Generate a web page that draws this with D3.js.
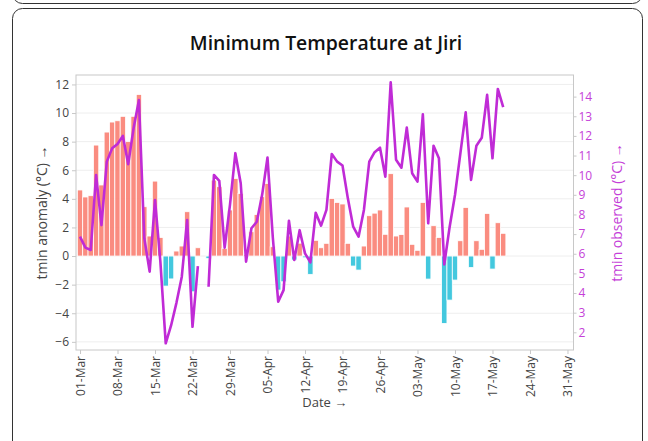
<!DOCTYPE html>
<html>
<head>
<meta charset="utf-8">
<script src="https://cdn.jsdelivr.net/npm/d3@7"></script>
<style>
  body { margin: 0; background: #fff; }
  text { font-family: "Open Sans", sans-serif; }
</style>
</head>
<body>
<div id="chart"></div>
<script>
// Daily values from 01-Mar, null = no reading
const startDate = new Date(Date.UTC(2024, 2, 1));

const anomaly = [
  4.62, 4.13, 4.22, 7.76, 4.97, 8.67, 9.37, 9.46, 9.77, 8.0,
  9.77, 11.3, 3.45, 1.4, 5.24, 1.3, -2.1, -1.6, 0.35, 0.7,
  3.1, -2.5, 0.58, null, -0.18, 5.31, 4.85, 0.54, 3.22, 5.43,
  4.38, 0.1, 1.7, 2.9, 4.15, 5.08, 0.65, -2.38, -1.8, 1.4,
  -0.28, 0.9, -0.12, -1.28, 1.1, 0.58, 0.89, 4.03, 3.75, 3.64,
  0.89, -0.7, -0.98, 0.7, 2.82, 3.0, 3.22, 1.52, 5.76, 1.4,
  1.5, 3.43, 0.82, 0.4, 3.75, -1.61, 2.12, 1.3, -4.71, -3.08,
  -1.68, 1.07, 3.4, -0.8, 1.07, 0.47, 2.98, -0.91, 2.33, 1.59
];

const observed = [
  6.87, 6.31, 6.19, 10.01, 7.46, 10.69, 11.37, 11.59, 12.0, 10.56,
  12.39, 13.83, 6.79, 5.09, 8.74, 5.6, 1.44, 2.35, 3.5, 4.83,
  7.72, 2.28, 5.37, null, 4.32, 10.01, 9.71, 6.31, 8.5, 11.12,
  9.59, 5.6, 7.3, 7.63, 9.0, 10.9, 6.8, 3.56, 4.15, 7.68,
  5.68, 7.2, 6.02, 5.56, 8.09, 7.43, 8.23, 11.08, 10.69, 10.49,
  8.82, 7.38, 6.87, 8.23, 10.69, 11.17, 11.4, 9.92, 14.73, 10.78,
  10.38, 12.42, 10.1, 9.67, 13.1, 7.55, 11.5, 10.86, 5.46, 7.36,
  8.99, 11.1, 13.2, 9.76, 11.5, 11.9, 14.09, 10.86, 14.39, 13.46
];

const anomalyTicks = [-6, -4, -2, 0, 2, 4, 6, 8, 10, 12];
const observedTicks = [2, 3, 4, 5, 6, 7, 8, 9, 10, 11, 12, 13, 14];

const dates = anomaly.map((d, i) => d3.utcDay.offset(startDate, i));
const rows = dates.map((d, i) => ({ date: d, anom: anomaly[i], obs: observed[i] }));

// layout
const W = 648, H = 441;
const margin = { top: 75, right: 74.5, bottom: 91, left: 76 };
const width = W - margin.left - margin.right;
const height = H - margin.top - margin.bottom;

const lineColor = "#c02bd6";
const axisColor = "#c53fd8";
const textColor = "#444";

const root = d3.select("#chart").append("svg")
  .attr("width", W)
  .attr("height", H);

// page cards
root.append("rect")
  .attr("x", 12.5).attr("y", -60).attr("width", 630).attr("height", 63.5)
  .attr("rx", 10).attr("fill", "#fff").attr("stroke", "#333");
root.append("rect")
  .attr("x", 12.5).attr("y", 8.5).attr("width", 630).attr("height", 500)
  .attr("rx", 10).attr("fill", "#fff").attr("stroke", "#333");

root.append("text")
  .attr("x", 326).attr("y", 50)
  .attr("text-anchor", "middle")
  .attr("font-size", "19.4px")
  .attr("font-weight", 600)
  .attr("fill", "#111")
  .text("Minimum Temperature at Jiri");

const svg = root.append("g")
  .attr("transform", `translate(${margin.left},${margin.top})`);

// scales
const x = d3.scaleUtc()
  .domain([d3.utcHour.offset(startDate, -18), d3.utcHour.offset(startDate, 92 * 24 + 3)])
  .range([0, width]);

const yL = d3.scaleLinear().domain([-6.57, 12.66]).range([height, 0]);
const yR = d3.scaleLinear().domain([1.1, 15.1]).range([height, 0]);

const bw = x(d3.utcDay.offset(startDate, 1)) - x(startDate);

// grid
svg.append("g")
  .selectAll("line")
  .data(anomalyTicks)
  .join("line")
  .attr("x1", 0).attr("x2", width)
  .attr("y1", d => yL(d)).attr("y2", d => yL(d))
  .attr("stroke", "#eee");

// bars
svg.append("g")
  .selectAll("rect")
  .data(rows.filter(d => d.anom !== null))
  .join("rect")
  .attr("x", d => x(d.date) - bw / 2)
  .attr("width", bw)
  .attr("y", d => yL(Math.max(0, d.anom)))
  .attr("height", d => Math.abs(yL(d.anom) - yL(0)))
  .attr("fill", d => d.anom >= 0 ? "#fa8072" : "#2fc2da")
  .attr("fill-opacity", 0.9)
  .attr("stroke", "#fff")
  .attr("stroke-width", 0.8);

// observed line
const line = d3.line()
  .defined(d => d.obs !== null)
  .x(d => x(d.date))
  .y(d => yR(d.obs));

svg.append("path")
  .datum(rows)
  .attr("d", line)
  .attr("fill", "none")
  .attr("stroke", lineColor)
  .attr("stroke-width", 2.6)
  .attr("stroke-linejoin", "round");

// frame
svg.append("rect")
  .attr("width", width).attr("height", height)
  .attr("fill", "none")
  .attr("stroke", "#c8c8c8");

// left axis
const axL = svg.append("g")
  .call(d3.axisLeft(yL).tickValues(anomalyTicks).tickSize(4).tickPadding(3));
axL.select(".domain").remove();
axL.selectAll("line").attr("stroke", "#c8c8c8");
axL.selectAll("text").attr("font-size", "12px").attr("fill", textColor)
  .attr("font-family", "Open Sans, sans-serif");

// right axis
const axR = svg.append("g")
  .attr("transform", `translate(${width},0)`)
  .call(d3.axisRight(yR).tickValues(observedTicks).tickSize(3).tickPadding(2));
axR.select(".domain").remove();
axR.selectAll("line").attr("stroke", "#c8c8c8");
axR.selectAll("text").attr("font-size", "12px").attr("fill", axisColor)
  .attr("font-family", "Open Sans, sans-serif");

// bottom axis
const weekTicks = d3.utcDay.range(startDate, d3.utcDay.offset(startDate, 92), 7);
const axB = svg.append("g")
  .attr("transform", `translate(0,${height})`)
  .call(d3.axisBottom(x).tickValues(weekTicks).tickFormat(d3.utcFormat("%d-%b")).tickSize(4));
axB.select(".domain").remove();
axB.selectAll("line").attr("stroke", "#c8c8c8");
axB.selectAll("text")
  .attr("font-size", "12px").attr("fill", textColor)
  .attr("font-family", "Open Sans, sans-serif")
  .attr("text-anchor", "end")
  .attr("transform", "rotate(-90)")
  .attr("x", -6).attr("y", 0).attr("dy", "0.35em");

// axis titles
svg.append("text")
  .attr("transform", `translate(-29,${height / 2}) rotate(-90)`)
  .attr("text-anchor", "middle")
  .attr("font-size", "14px").attr("fill", textColor)
  .text("tmin anomaly (°C) →");

svg.append("text")
  .attr("transform", `translate(${width + 48},${height / 2}) rotate(-90)`)
  .attr("text-anchor", "middle")
  .attr("font-size", "14px").attr("fill", axisColor)
  .text("tmin observed (°C) →");

svg.append("text")
  .attr("x", width / 2).attr("y", height + 57)
  .attr("text-anchor", "middle")
  .attr("font-size", "13px").attr("fill", textColor)
  .text("Date →");
</script>
</body>
</html>
